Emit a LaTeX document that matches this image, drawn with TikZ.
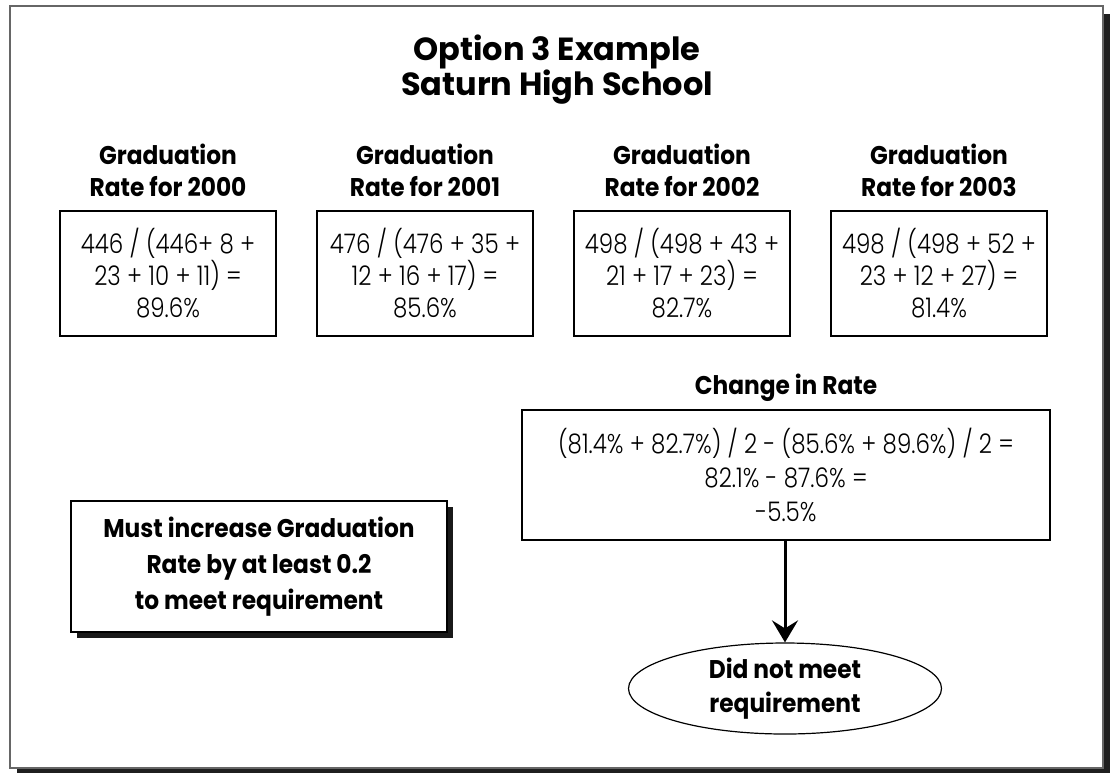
\documentclass[tikz,border=0pt]{standalone}
\usepackage{fontspec}
\setmainfont{Poppins}
\newfontfamily\headfont{Poppins}[FakeStretch=0.91]
\newfontfamily\lightfont{Poppins}[UprightFont=* Light, FakeStretch=0.85]
\usetikzlibrary{arrows.meta}
\usetikzlibrary{shapes.geometric}
\usetikzlibrary{shadows}

\begin{document}
\begin{tikzpicture}[x=0.5pt,y=-0.5pt,
	head/.style={font=\headfont\bfseries\fontsize{12.8}{16}\selectfont, align=center},
	sum/.style={draw, line width=0.6pt, align=center, font=\lightfont\fontsize{13.5}{16}\selectfont}]
	\useasboundingbox (0,0) rectangle (1113,773);
	% page frame
	\fill[black!88] (17,14) rectangle (1110,773);
	\draw[black!60, fill=white, line width=0.6pt] (10,6) rectangle (1103,768);

	\node[font=\bfseries\fontsize{16}{17.5}\selectfont, align=center] (title) at (557,70) {Option 3 Example\\Saturn High School};

	\begin{scope}[every node/.style={head}]
		\node (h1) at (168,170) {Graduation\\Rate for 2000};
		\node (h2) at (425,170) {Graduation\\Rate for 2001};
		\node (h3) at (682,170) {Graduation\\Rate for 2002};
		\node (h4) at (939,170) {Graduation\\Rate for 2003};
	\end{scope}
	\begin{scope}[every node/.style={sum, minimum width=108pt, minimum height=62.5pt}]
		\node (r1) at (168,273.5) {446 / (446+ 8 +\\23 + 10 + 11) =\\89.6\%};
		\node (r2) at (425,273.5) {476 / (476 + 35 +\\12 + 16 + 17) =\\85.6\%};
		\node (r3) at (682,273.5) {498 / (498 + 43 +\\21 + 17 + 23) =\\82.7\%};
		\node (r4) at (939,273.5) {498 / (498 + 52 +\\23 + 12 + 27) =\\81.4\%};
	\end{scope}

	\node[head] (chgh) at (786,388) {Change in Rate};
	\node[sum, minimum width=264pt, minimum height=65pt, font=\lightfont\fontsize{13.5}{17}\selectfont] (chg) at (786,475)
		{(81.4\% + 82.7\%) / 2 - (85.6\% + 89.6\%) / 2 =\\82.1\% - 87.6\% =\\-5.5\%};

	\node[head, draw, fill=white, line width=0.6pt, minimum width=188pt, minimum height=65.5pt,
		drop shadow={shadow xshift=3pt, shadow yshift=-3pt, fill=black!90, opacity=1},
		font=\headfont\bfseries\fontsize{12.8}{18}\selectfont] (must) at (259,566.5)
		{Must increase Graduation\\Rate by at least 0.2\\to meet requirement};

	\node[head, ellipse, draw, line width=0.6pt, minimum width=156.5pt, minimum height=45.5pt, inner sep=0pt,
		font=\headfont\bfseries\fontsize{12.8}{17}\selectfont] (dnm) at (785,688.5)
		{Did not meet\\requirement};

	\draw[line width=1.5pt, -{Stealth[length=11pt, width=13pt, inset=4pt]}] (dnm.north |- chg.south) -- (dnm.north);
\end{tikzpicture}
\end{document}
